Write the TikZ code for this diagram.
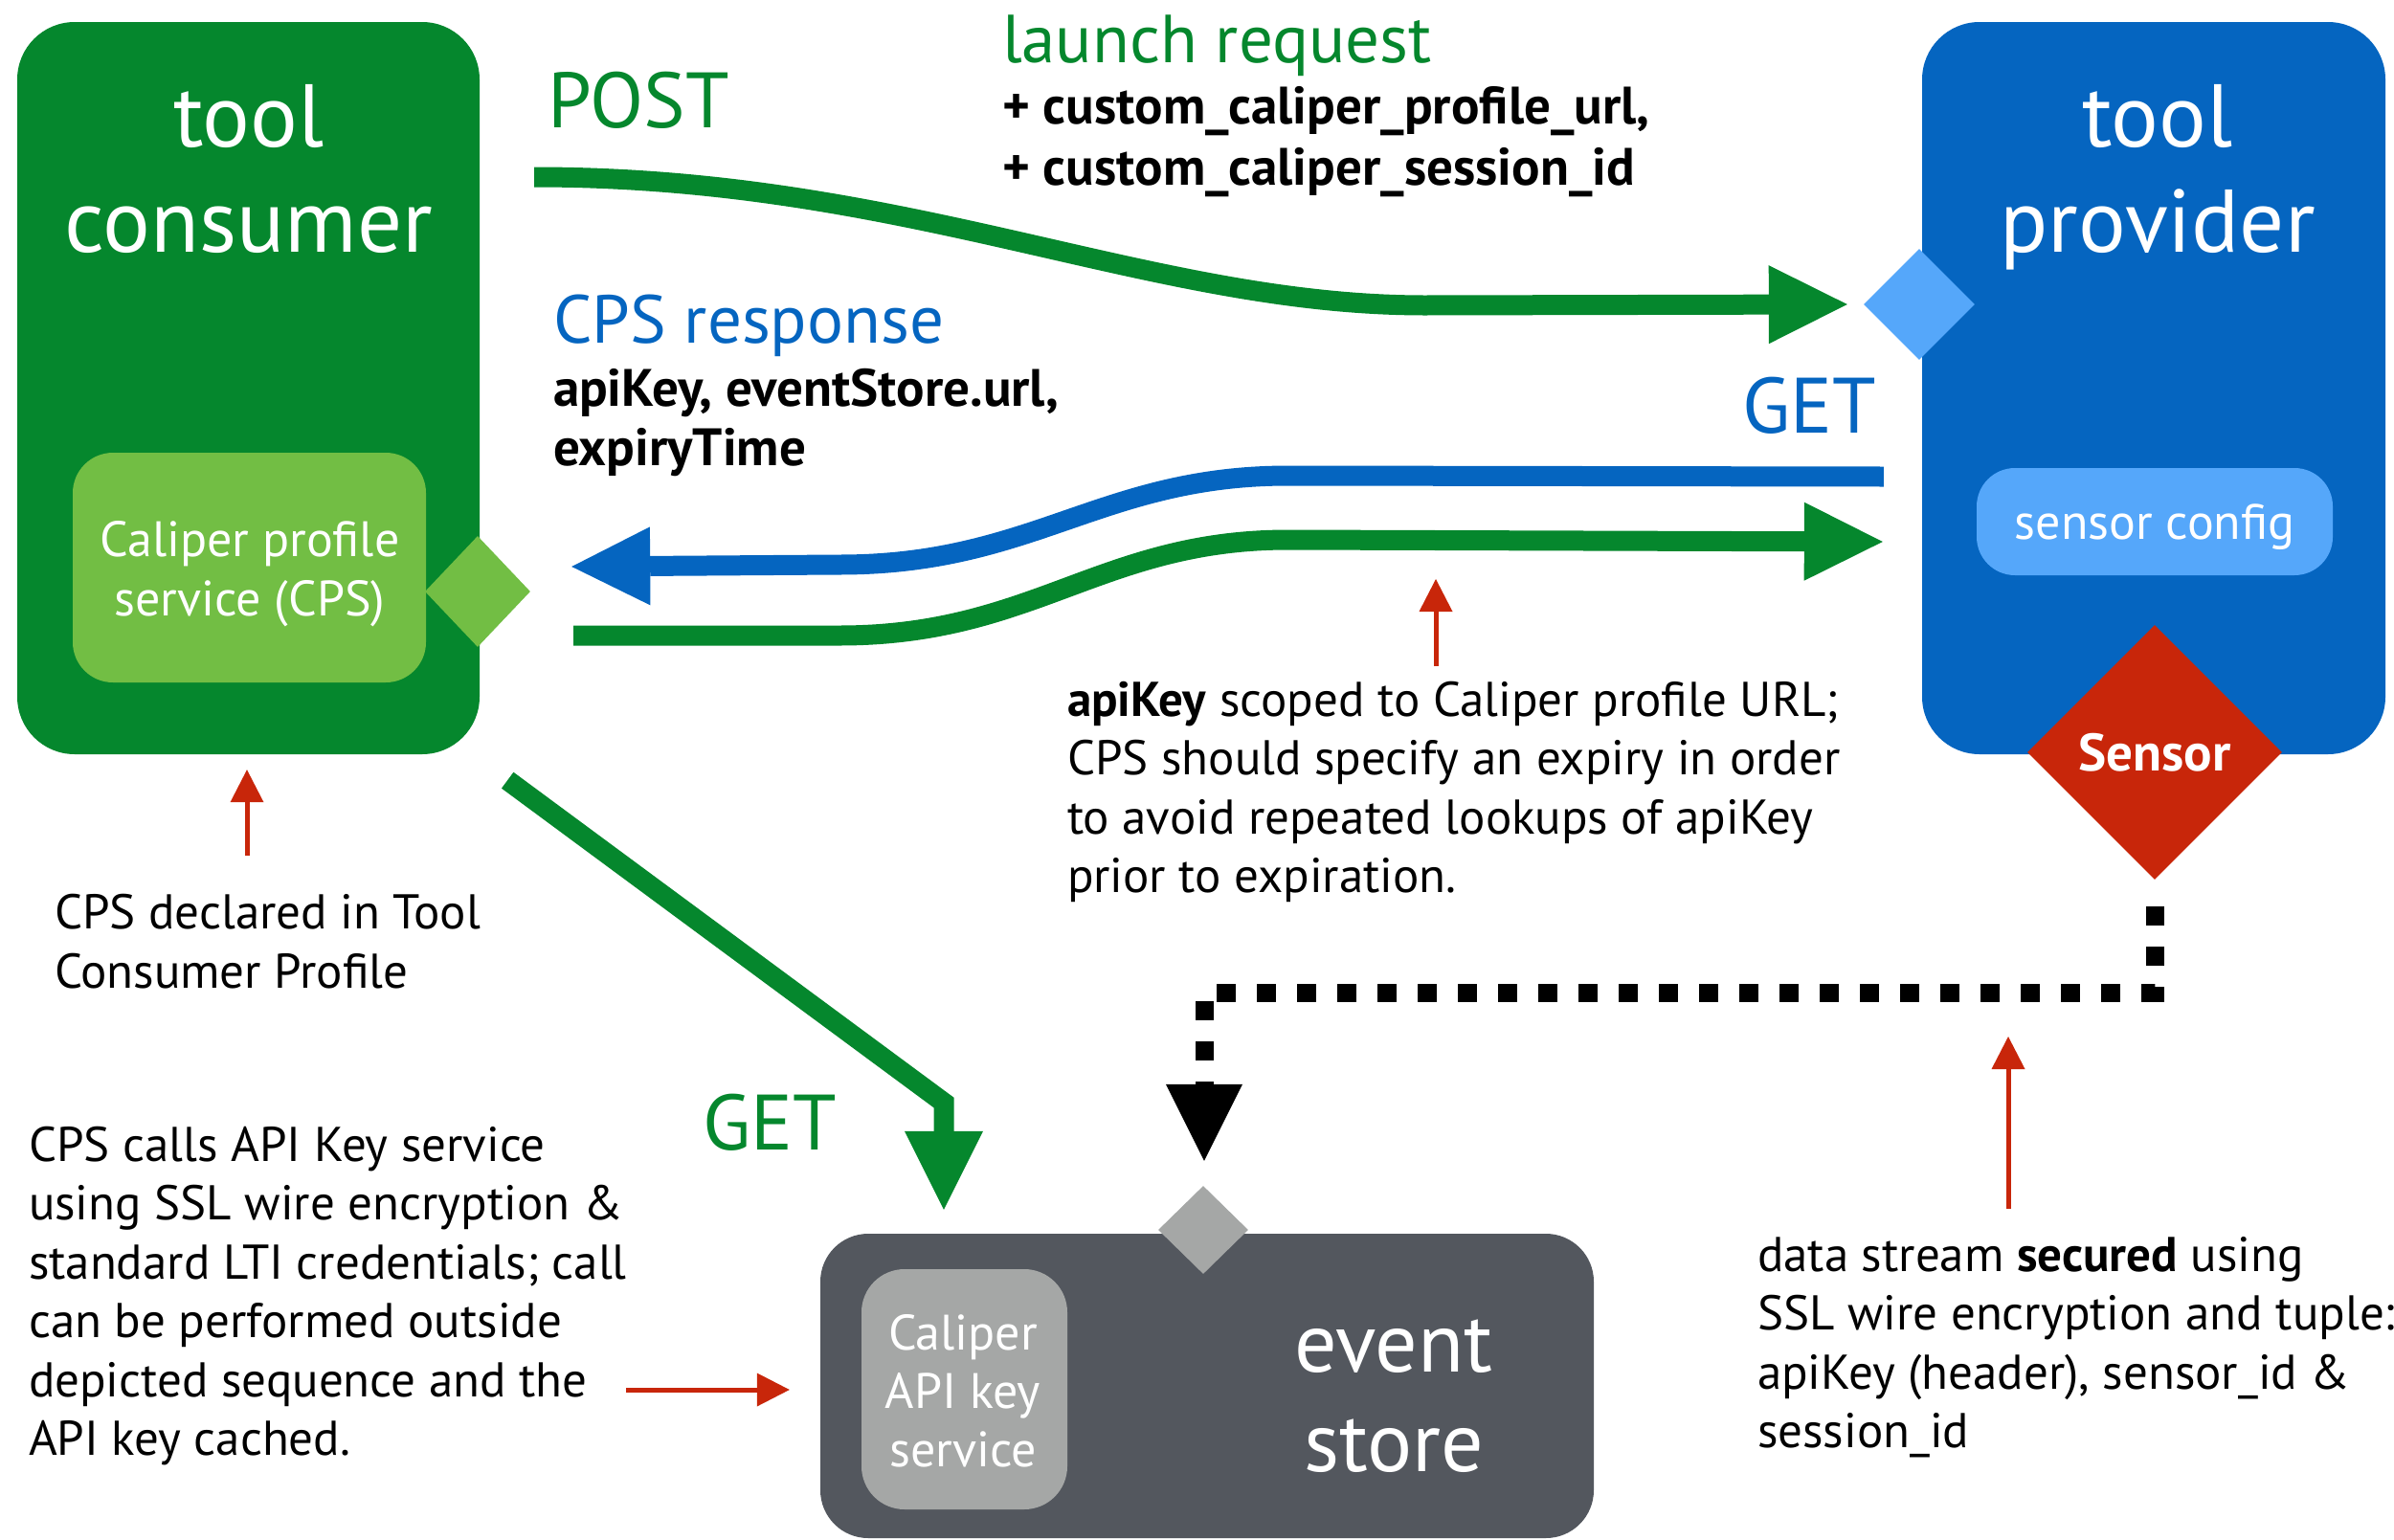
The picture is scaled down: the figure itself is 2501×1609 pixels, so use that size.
\documentclass[tikz,border=0pt]{standalone}
\usepackage{fontspec}
\setmainfont{PT Sans}
\usetikzlibrary{arrows.meta,shapes.geometric,calc}
\definecolor{tcgreen}{HTML}{05872D}
\definecolor{cpsgreen}{HTML}{72BE44}
\definecolor{tpblue}{HTML}{0565C0}
\definecolor{lightblue}{HTML}{55A7FA}
\definecolor{sensorred}{HTML}{C8260A}
\definecolor{storegrey}{HTML}{53575E}
\definecolor{apigrey}{HTML}{A5A7A6}
\begin{document}
\begin{tikzpicture}[x=1pt,y=-1pt,
  rbox/.style={rectangle, rounded corners=#1, inner sep=0pt, draw=none},
  dia/.style={diamond, inner sep=0pt, draw=none},
  txt/.style={inner sep=0pt, outer sep=0pt},
  ttl/.style={txt, text=white, align=center, font=\fontsize{93}{110}\selectfont},
  btxt/.style={txt, text=white, align=center, font=\fontsize{52}{62}\selectfont},
  lbl/.style={txt, font=\fontsize{82}{96}\selectfont},
  sub/.style={txt, font=\fontsize{71}{84}\selectfont},
  bld/.style={txt, align=left, font=\bfseries\fontsize{55}{64}\selectfont},
  note/.style={txt, align=left, font=\fontsize{51}{61.5}\selectfont},
  garrow/.style={draw=tcgreen, line width=21pt, -{Triangle[length=82pt,width=82pt,line width=0pt]}},
  barrow/.style={draw=tpblue, line width=21pt, -{Triangle[length=82pt,width=82pt,line width=0pt]}},
  dotline/.style={draw=black, line width=19pt, dash pattern=on 20pt off 22pt, -{Triangle[length=80pt,width=80pt,line width=0pt]}},
  rarrow/.style={draw=sensorred, line width=5pt, -{Triangle[length=34pt,width=35pt,line width=0pt]}}
]
\useasboundingbox (0,0) rectangle (2501,1609);
\clip (0,0) rectangle (2501,1609);

% main boxes
\node[rbox=60pt, fill=tcgreen, minimum width=483pt, minimum height=765pt] (tc) at (259.5,405.5) {};
\node[rbox=60pt, fill=tpblue, minimum width=484pt, minimum height=765pt] (tp) at (2250,405.5) {};
\node[rbox=42pt, fill=cpsgreen, minimum width=369pt, minimum height=240pt] (cps) at (260.5,593) {};
\node[rbox=40pt, fill=lightblue, minimum width=372pt, minimum height=112pt] (scfg) at (2251,545) {};
\node[rbox=50pt, fill=storegrey, minimum width=808pt, minimum height=318pt] (es) at (1261,1448) {};
\node[rbox=45pt, fill=apigrey, minimum width=215pt, minimum height=251pt] (api) at (1007.5,1451.5) {};

% diamonds
\node[dia, fill=cpsgreen, minimum width=110pt, minimum height=116pt] (cpsd) at (499,618) {};
\node[dia, fill=lightblue, minimum width=116pt, minimum height=116pt] (tpd) at (2005,318) {};
\node[dia, fill=sensorred, minimum width=266pt, minimum height=266pt, text=white, font=\bfseries\fontsize{55}{64}\selectfont] (sensor) at (2251,786) {Sensor};
\node[dia, fill=apigrey, minimum width=94pt, minimum height=92pt] (esd) at (1257,1285) {};

% box texts (base anchor = baseline of last line)
\node[ttl, anchor=base] (tctxt) at (260,263) {tool\\consumer};
\node[ttl, anchor=base] (tptxt) at (2254,263) {tool\\provider};
\node[ttl, anchor=base, font=\fontsize{88}{104}\selectfont] (estxt) at (1456,1537) {event\\store};
\node[btxt, anchor=base] (cpstxt) at (261,643) {Caliper profile\\service (CPS)};
\node[btxt, anchor=base, font=\fontsize{52}{61}\selectfont] (apitxt) at (1006,1532) {Caliper\\API key\\service};
\node[btxt, anchor=base] (scfgtxt) at (2251,563) {sensor config};

% labels
\node[lbl, text=tcgreen, anchor=base west] (post) at (572,133) {POST};
\node[sub, text=tcgreen, anchor=base west] (launch) at (1047,65) {launch request};
\node[bld, anchor=base west] (params) at (1047,193) {+ custom\_caliper\_profile\_url,\\+ custom\_caliper\_session\_id};
\node[sub, text=tpblue, anchor=base west] (cpsresp) at (578,358) {CPS response};
\node[bld, anchor=base west, font=\bfseries\fontsize{55}{62}\selectfont] (resp) at (578,486) {apiKey, eventStore.url,\\expiryTime};
\node[lbl, text=tpblue, anchor=base east] (get1) at (1960,452) {GET};
\node[lbl, text=tcgreen, anchor=base west] (get2) at (734,1201) {GET};

% notes
\node[note, anchor=base west] (n1) at (1115,932.5) {\textbf{apiKey} scoped to Caliper profile URL;\\CPS should specify an expiry in order\\to avoid repeated lookups of apiKey\\prior to expiration.};
\node[note, anchor=base west] (n2) at (57,1032) {CPS declared in Tool\\Consumer Profile};
\node[note, anchor=base west] (n3) at (30,1520.5) {CPS calls API Key service\\using SSL wire encryption \&\\standard LTI credentials; call\\can be performed outside\\depicted sequence and the\\API key cached.};
\node[note, anchor=base west] (n4) at (1836,1512.5) {data stream \textbf{secured} using\\SSL wire encryption and tuple:\\apiKey (header), sensor\_id \&\\session\_id};

% connector end points
\coordinate (postS) at ($(tc.east)+(57,-220.5)$);
\coordinate (postE) at ($(tpd.west)+(-17,0)$);
\coordinate (getS) at ($(tp.west)+(-40,92.5)$);
\coordinate (getE) at ($(cpsd.east)+(43,-26)$);
\coordinate (retS) at ($(cpsd.east)+(45,46)$);
\coordinate (retE) at ($(tp.west)+(-41,160.5)$);
\coordinate (diagS) at ($(tc.south east)+(29,27)$);
\coordinate (diagE) at ($(api.north)+(-21.5,-62)$);
\coordinate (dotS) at ($(sensor.south)+(0,28)$);
\coordinate (dotE) at ($(esd.north)+(1,-26)$);

% connectors
\draw[garrow] (postS) .. controls (950,185) and (1200,319) .. (1489,319) -- (postE);
\draw[barrow] (getS) -- (1346,497) .. controls (1150,497) and (1080,590) .. (877,590) -- (getE);
\draw[garrow] (retS) -- (877,664) .. controls (1080,664) and (1150,564) .. (1346,564) -- (retE);
\draw[garrow] (diagS) -- (986,1152) -- (diagE);
\draw[dotline] (dotS) -- (2251,1037) -- (1258,1037) -- (dotE);

% red annotation arrows
\coordinate (r1s) at (258,894);
\coordinate (r2s) at (1500,696);
\coordinate (r2e) at (1500,605);
\coordinate (r3s) at (654,1452);
\coordinate (r4s) at (2098,1263);
\coordinate (r4e) at (2098,1083);
\draw[rarrow] (r1s) -- ($(tc.south)+(-1.5,16)$);
\draw[rarrow] (r2s) -- (r2e);
\draw[rarrow] (r3s) -- ($(es.west)+(-32,4)$);
\draw[rarrow] (r4s) -- (r4e);
\end{tikzpicture}
\end{document}
